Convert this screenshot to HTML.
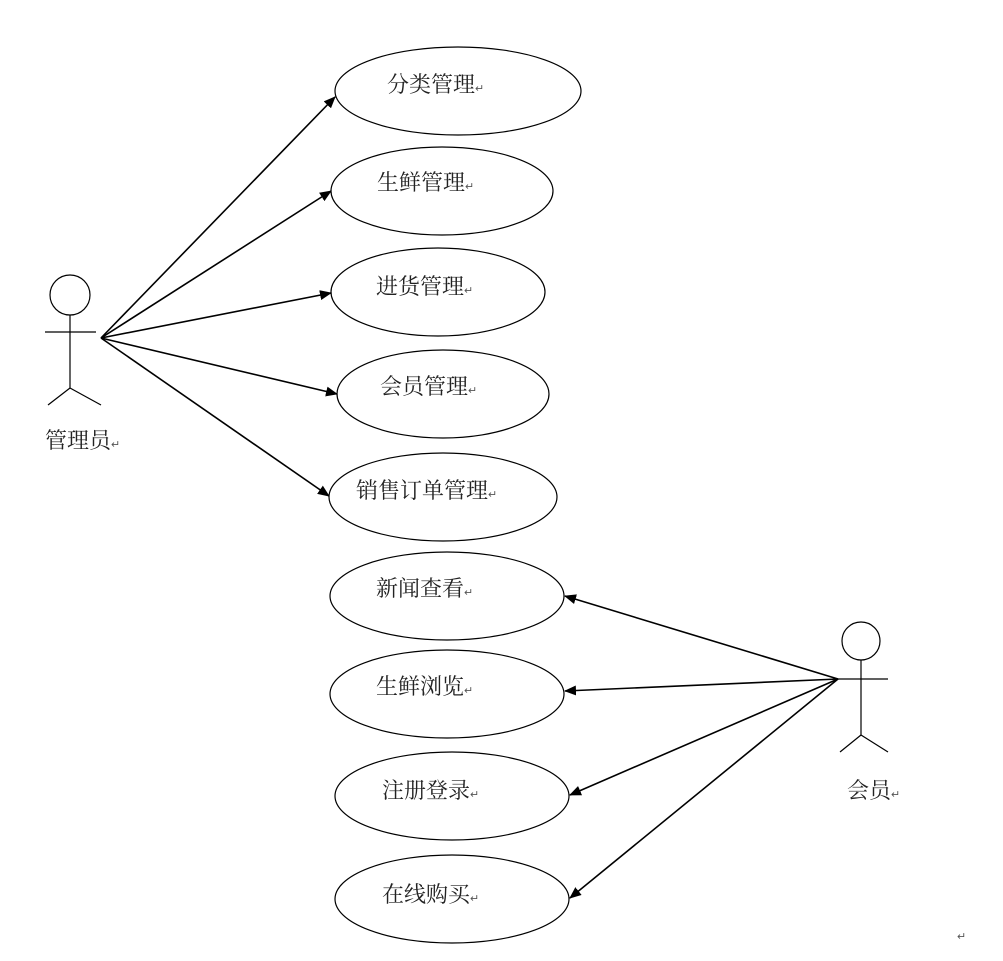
<!DOCTYPE html>
<html><head><meta charset="utf-8"><style>
html,body{margin:0;padding:0;background:#fff}
svg{display:block}
text{font-family:"Liberation Serif","Noto Serif CJK SC","Noto Sans CJK SC",serif;font-size:22px;fill:#222}
.r{font-size:11px;fill:#555}
</style></head><body>
<svg width="1003" height="961" viewBox="0 0 1003 961" xmlns="http://www.w3.org/2000/svg">
<defs><marker id="a" markerWidth="12" markerHeight="10" refX="11" refY="5" orient="auto" markerUnits="userSpaceOnUse"><path d="M0,0 L12,5 L0,10 z" fill="#000"/></marker></defs>
<g fill="none" stroke="#000" stroke-width="1.2">
<ellipse cx="458" cy="91" rx="123" ry="44"/>
<ellipse cx="442" cy="191" rx="111" ry="44"/>
<ellipse cx="438" cy="292" rx="107" ry="44"/>
<ellipse cx="443" cy="394" rx="106" ry="44"/>
<ellipse cx="443" cy="497" rx="114" ry="44"/>
<ellipse cx="447" cy="596" rx="117" ry="44"/>
<ellipse cx="447" cy="694" rx="117" ry="44"/>
<ellipse cx="452" cy="796" rx="117" ry="44"/>
<ellipse cx="452" cy="899" rx="117" ry="44"/>
<circle cx="70" cy="295" r="20"/>
<line x1="70" y1="315" x2="70" y2="388"/><line x1="45" y1="332" x2="96" y2="332"/>
<line x1="70" y1="388" x2="48" y2="405"/><line x1="70" y1="388" x2="101" y2="405"/>
<circle cx="861" cy="641" r="19"/>
<line x1="861" y1="660" x2="861" y2="735"/><line x1="838" y1="679" x2="888" y2="679"/>
<line x1="861" y1="735" x2="840" y2="752"/><line x1="861" y1="735" x2="888" y2="752"/>
</g>
<g stroke="#000" stroke-width="1.6" marker-end="url(#a)">
<line x1="101" y1="338" x2="335" y2="97"/>
<line x1="101" y1="338" x2="331" y2="191"/>
<line x1="101" y1="338" x2="331" y2="293"/>
<line x1="101" y1="338" x2="337" y2="394"/>
<line x1="101" y1="338" x2="329" y2="496"/>
<line x1="838" y1="679" x2="565" y2="596"/>
<line x1="838" y1="679" x2="565" y2="691"/>
<line x1="838" y1="679" x2="570" y2="795"/>
<line x1="838" y1="679" x2="570" y2="898"/>
</g>
<text x="387" y="92">分类管理<tspan class="r">↵</tspan></text>
<text x="377" y="190">生鲜管理<tspan class="r">↵</tspan></text>
<text x="376" y="294">进货管理<tspan class="r">↵</tspan></text>
<text x="380" y="394">会员管理<tspan class="r">↵</tspan></text>
<text x="356" y="498">销售订单管理<tspan class="r">↵</tspan></text>
<text x="376" y="596">新闻查看<tspan class="r">↵</tspan></text>
<text x="376" y="694">生鲜浏览<tspan class="r">↵</tspan></text>
<text x="382" y="798">注册登录<tspan class="r">↵</tspan></text>
<text x="382" y="902">在线购买<tspan class="r">↵</tspan></text>
<text x="45" y="448">管理员<tspan class="r">↵</tspan></text>
<text x="847" y="798">会员<tspan class="r">↵</tspan></text>
<text x="957" y="940" class="r">↵</text>
</svg>
</body></html>
